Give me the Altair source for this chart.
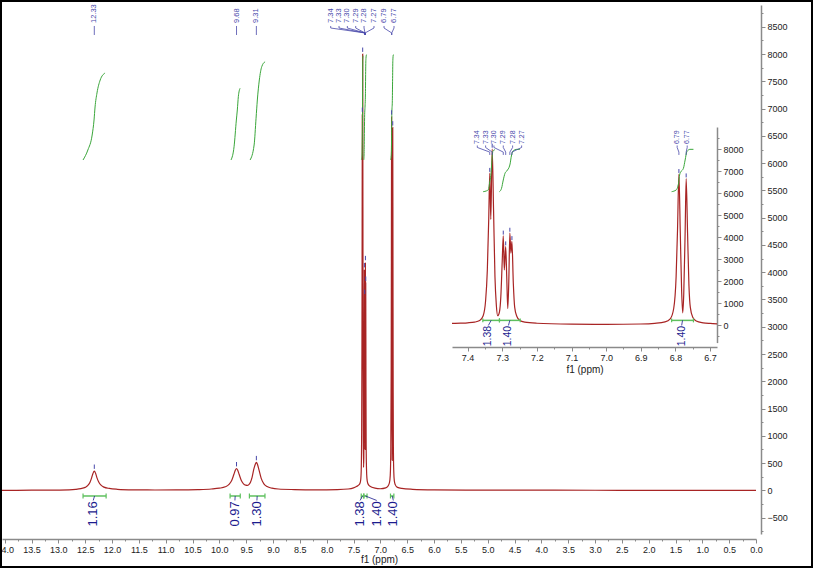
import altair as alt
import pandas as pd

# ---------------- spectrum: (ppm, intensity) ----------------
spectrum_points = [
    (14.05, 0), (13.5, 3), (13.0, 6), (12.8, 10), (12.68, 18), (12.58, 32), (12.50, 55),
    (12.45, 90), (12.41, 150), (12.38, 230), (12.355, 310), (12.33, 354), (12.305, 310),
    (12.28, 230), (12.25, 160), (12.21, 100), (12.15, 60), (12.05, 35), (11.9, 20),
    (11.6, 10), (11.2, 7), (10.8, 8), (10.4, 14), (10.15, 25), (10.0, 40),
    (9.89, 65), (9.82, 110), (9.77, 180), (9.73, 290), (9.70, 375), (9.68, 400),
    (9.66, 375), (9.63, 290), (9.59, 180), (9.55, 120), (9.51, 95), (9.48, 92),
    (9.45, 105), (9.42, 150), (9.39, 240), (9.36, 380), (9.33, 480), (9.31, 512),
    (9.29, 480), (9.26, 370), (9.22, 220), (9.17, 120), (9.11, 70), (9.02, 40),
    (8.90, 25), (8.60, 15), (8.20, 10), (7.80, 15), (7.60, 25), (7.50, 45),
    (7.445, 70), (7.42, 85), (7.40, 100), (7.38, 130), (7.365, 200), (7.355, 420),
    (7.348, 1100), (7.343, 2500), (7.339, 4800), (7.336, 6900), (7.333, 4800),
    (7.329, 8000), (7.325, 5200), (7.321, 2200), (7.317, 900), (7.313, 420),
    (7.308, 600), (7.304, 1300), (7.300, 2900), (7.297, 4050), (7.294, 2500),
    (7.290, 3560), (7.287, 2200), (7.284, 750), (7.281, 2000), (7.278, 4180),
    (7.275, 3270), (7.272, 3800), (7.268, 1900), (7.264, 800), (7.258, 400),
    (7.250, 220), (7.235, 130), (7.20, 80), (7.10, 40), (7.00, 30),
    (6.90, 45), (6.86, 75), (6.83, 140), (6.815, 280), (6.805, 750), (6.798, 2200),
    (6.794, 4300), (6.790, 6850), (6.786, 4200), (6.782, 1500), (6.779, 550),
    (6.776, 1400), (6.772, 4200), (6.769, 6650), (6.765, 4200), (6.761, 1800),
    (6.757, 800), (6.750, 350), (6.740, 180), (6.72, 100), (6.70, 70), (6.68, 55),
    (6.60, 35), (6.40, 20), (6.00, 10), (5.00, 5), (3.00, 2), (1.00, 1), (0.00, 0),
]

# ---------------- picked peaks ----------------
peak_label = ["12.33", "9.68", "9.31", "7.34", "7.33", "7.30", "7.29", "7.28", "7.27", "6.79", "6.77"]
peak_ppm = [12.33, 9.68, 9.31, 7.336, 7.329, 7.297, 7.290, 7.278, 7.272, 6.790, 6.769]
peak_height = [354, 400, 512, 6900, 8000, 4050, 3560, 4180, 3800, 6850, 6650]

# where each peak tag is written (ppm), and where its leader joins the spectrum
main_tag_ppm = [12.33, 9.68, 9.31, 7.925, 7.770, 7.615, 7.459, 7.304, 7.118, 6.931, 6.745]
main_join_ppm = [12.33, 9.68, 9.31, 7.285, 7.285, 7.285, 7.285, 7.285, 7.285, 6.788, 6.788]
inset_tag_ppm = [7.372, 7.348, 7.324, 7.297, 7.270, 7.244, 6.795, 6.766]
inset_join_ppm = [7.336, 7.329, 7.297, 7.290, 7.278, 7.272, 6.790, 6.769]

# ---------------- integral curves: (ppm, running integral drawn on intensity axis) ----------------
int_a = [(12.54, 6058), (12.45, 6241), (12.37, 6516), (12.335, 6791), (12.316, 7030),
         (12.28, 7287), (12.22, 7525), (12.13, 7653)]
int_b = [(9.782, 6058), (9.726, 6300), (9.683, 6791), (9.665, 6975), (9.646, 7219), (9.614, 7373)]
int_c = [(9.427, 6058), (9.352, 6333), (9.316, 6823), (9.292, 7158), (9.255, 7525),
         (9.21, 7769), (9.148, 7860)]
int_d = [(7.355, 6060), (7.345, 6100), (7.340, 6150), (7.336, 6500), (7.333, 6800),
         (7.330, 7400), (7.327, 7900), (7.321, 7970)]
int_e = [(7.308, 6060), (7.302, 6214), (7.297, 6590), (7.292, 6895), (7.287, 7000),
         (7.278, 7272), (7.273, 7727), (7.268, 7920), (7.258, 7985), (7.249, 7985)]
int_f = [(6.811, 6060), (6.798, 6136), (6.791, 6440), (6.788, 6818), (6.784, 6970),
         (6.777, 7120), (6.772, 7500), (6.767, 7880), (6.758, 7985), (6.748, 7985)]

int_names = ["A", "B", "C", "D", "E", "F"]
int_values = ["1.16", "0.97", "1.30", "1.38", "1.40", "1.40"]
int_from = [12.54, 9.80, 9.44, 7.356, 7.308, 6.811]
int_to = [12.11, 9.61, 9.15, 7.308, 7.248, 6.748]
int_tag_main = [12.35, 9.71, 9.30, 7.378, 7.067, 6.758]
int_tag_inset = [None, None, None, 7.340, 7.282, 6.782]

# ---------------- axis ticks ----------------
x_major = [14.0, 13.5, 13.0, 12.5, 12.0, 11.5, 11.0, 10.5, 10.0, 9.5, 9.0, 8.5, 8.0, 7.5, 7.0,
           6.5, 6.0, 5.5, 5.0, 4.5, 4.0, 3.5, 3.0, 2.5, 2.0, 1.5, 1.0, 0.5, 0.0]
x_minor = [round(v - 0.25, 2) for v in x_major if v > 0]
y_major = [-500, 0, 500, 1000, 1500, 2000, 2500, 3000, 3500, 4000, 4500, 5000, 5500, 6000,
           6500, 7000, 7500, 8000, 8500]
y_minor = [v + 250 for v in y_major] + [-750]
xi_major = [7.4, 7.3, 7.2, 7.1, 7.0, 6.9, 6.8, 6.7]
xi_minor = [7.45, 7.35, 7.25, 7.15, 7.05, 6.95, 6.85, 6.75]
yi_major = [0, 1000, 2000, 3000, 4000, 5000, 6000, 7000, 8000]
yi_minor = [-500, 500, 1500, 2500, 3500, 4500, 5500, 6500, 7500, 8500]

# ---------------- tables ----------------
spec_df = pd.DataFrame(spectrum_points, columns=["ppm", "y"])
inset_spec_df = spec_df[(spec_df.ppm <= 7.445) & (spec_df.ppm >= 6.68)]

rows = []
for name, pts in zip(int_names, [int_a, int_b, int_c, int_d, int_e, int_f]):
    for k, (p, v) in enumerate(pts):
        rows.append({"name": name, "k": k, "ppm": p, "y": v})
int_df = pd.DataFrame(rows)
int_inset_df = int_df[int_df.name.isin(["D", "E", "F"])]

brk_df = pd.DataFrame({"name": int_names, "val": int_values, "start": int_from, "end": int_to,
                       "tag_main": int_tag_main, "tag_inset": int_tag_inset})
brk_df["center"] = (brk_df.start + brk_df.end) / 2
brk_inset_df = brk_df[brk_df.name.isin(["D", "E", "F"])]

peak_df = pd.DataFrame({"label": peak_label, "ppm": peak_ppm, "h": peak_height,
                        "tag": main_tag_ppm, "join": main_join_ppm})
peak_inset_df = peak_df.iloc[3:].copy()
peak_inset_df["tag"] = inset_tag_ppm
peak_inset_df["join"] = inset_join_ppm

MAIN_LEAD = [8515, 8478, 8387, 8350]
INSET_LEAD = [8160, 8070, 7860, 7730]


def leaders(df, ys):
    out = []
    for _, r in df.iterrows():
        xs = [r.tag, r.tag, r.join, r.join]
        for k in range(4):
            out.append({"label": r.label, "k": k, "ppm": xs[k], "y": ys[k]})
    return pd.DataFrame(out)


def int_leaders(df, tagcol, y0, y1):
    out = []
    for _, r in df.iterrows():
        out.append({"name": r["name"], "k": 0, "ppm": r.center, "y": y0})
        out.append({"name": r["name"], "k": 1, "ppm": r[tagcol], "y": y1})
    return pd.DataFrame(out)


# ---------------- styles ----------------
FONT = "Liberation Sans"
RED = "#a82424"
GREEN = "#3aa63a"
BRK = "#5ec05e"
BLUE_T = "#4848aa"
BLUE_I = "#1c1c8e"
GREY = "#8a8a8a"
AX = dict(domainColor=GREY, domainWidth=1.5, tickColor=GREY, tickWidth=1, labelFont=FONT,
          labelFontSize=9, labelColor="#222222", grid=False, labelOverlap=False,
          labelFlush=False, titleFont=FONT, titleFontSize=10, titleFontWeight="normal",
          titleColor="#222222")

XM = alt.Scale(domain=[14.05, 0.0], nice=False, zero=False)
YM = alt.Scale(domain=[-800, 8900], nice=False, zero=False)
XI = alt.Scale(domain=[7.445, 6.68], range=[450, 715], nice=False, zero=False)
YI = alt.Scale(domain=[-800, 9000], range=[337.6, 122], nice=False, zero=False)


def build(spec, ints, brks, peaks, XS, YS, xax, yax, xmin, ymin, cfg):
    spec_line = alt.Chart(spec).mark_line(color=RED, strokeWidth=1.2, interpolate="monotone").encode(
        x=alt.X("ppm:Q", scale=XS, axis=xax),
        y=alt.Y("y:Q", scale=YS, axis=yax),
        order=alt.Order("ppm:Q", sort="descending"),
    )
    minor = alt.Chart(spec).mark_point(opacity=0).encode(
        x=alt.X("ppm:Q", scale=XS, axis=xmin),
        y=alt.Y("y:Q", scale=YS, axis=ymin),
    )
    integ = alt.Chart(ints).mark_line(color=GREEN, strokeWidth=1, interpolate="monotone").encode(
        x=alt.X("ppm:Q", scale=XS, axis=None),
        y=alt.Y("y:Q", scale=YS, axis=None),
        detail="name:N",
        order=alt.Order("k:Q"),
    )
    by = cfg["by"]
    bar = alt.Chart(brks).mark_rule(color=BRK, strokeWidth=1.5).transform_calculate(
        by=str(by)).encode(
        x=alt.X("start:Q", scale=XS, axis=None), x2="end:Q",
        y=alt.Y("by:Q", scale=YS, axis=None),
    )
    ends = alt.Chart(brks).mark_rule(color=BRK, strokeWidth=1.2).transform_fold(
        ["start", "end"], as_=["side", "pos"]).transform_calculate(
        b0=str(by - cfg["tick"]), b1=str(by + cfg["tick"])).encode(
        x=alt.X("pos:Q", scale=XS, axis=None),
        y=alt.Y("b0:Q", scale=YS, axis=None), y2="b1:Q",
    )
    lead = alt.Chart(int_leaders(brks, cfg["tagcol"], by, cfg["lead_end"])).mark_line(
        color=BLUE_I, strokeWidth=0.8).encode(
        x=alt.X("ppm:Q", scale=XS, axis=None),
        y=alt.Y("y:Q", scale=YS, axis=None),
        detail="name:N", order=alt.Order("k:Q"),
    )
    ival = alt.Chart(brks).mark_text(angle=270, align="right", baseline="middle", font=FONT,
                                     fontSize=cfg["ifs"], color=BLUE_I).transform_calculate(
        ty=str(cfg["tag_y"])).encode(
        x=alt.X(cfg["tagcol"] + ":Q", scale=XS, axis=None),
        y=alt.Y("ty:Q", scale=YS, axis=None),
        text="val:N",
    )
    marks = alt.Chart(peaks).mark_rule(color=BLUE_T, strokeWidth=1).transform_calculate(
        m0="datum.h + " + str(cfg["m0"]), m1="datum.h + " + str(cfg["m1"])).encode(
        x=alt.X("ppm:Q", scale=XS, axis=None),
        y=alt.Y("m0:Q", scale=YS, axis=None), y2="m1:Q",
    )
    plead = alt.Chart(leaders(peaks, cfg["plead"])).mark_line(color=BLUE_T, strokeWidth=0.8).encode(
        x=alt.X("ppm:Q", scale=XS, axis=None),
        y=alt.Y("y:Q", scale=YS, axis=None),
        detail="label:N", order=alt.Order("k:Q"),
    )
    ptxt = alt.Chart(peaks).mark_text(angle=270, align="left", baseline="middle", font=FONT,
                                      fontSize=cfg["pfs"], color=BLUE_T).transform_calculate(
        ty=str(cfg["ptag_y"])).encode(
        x=alt.X("tag:Q", scale=XS, axis=None),
        y=alt.Y("ty:Q", scale=YS, axis=None),
        text="label:N",
    )
    return [spec_line, minor, integ, bar, ends, lead, ival, marks, plead, ptxt]


# ---------------- main plot ----------------
x_main_axis = alt.Axis(orient="bottom", offset=5, values=x_major, format=".1f", tickSize=4,
                       labelPadding=2, title="f1 (ppm)", titlePadding=0, **AX)
x_main_minor = alt.Axis(orient="bottom", offset=5, values=x_minor, labels=False, domain=False,
                        tickSize=2, tickColor=GREY, title=None, grid=False)
y_main_axis = alt.Axis(orient="right", offset=5, values=y_major, format="d", tickSize=4,
                       labelPadding=2, title=None, **AX)
y_main_minor = alt.Axis(orient="right", offset=5, values=y_minor, labels=False, domain=False,
                        tickSize=2, tickColor=GREY, title=None, grid=False)

main_cfg = dict(by=-103, tick=45, tagcol="tag_main", lead_end=-185, tag_y=-200, ifs=13,
                m0=40, m1=120, plead=MAIN_LEAD, pfs=7.5, ptag_y=8570)
main_layers = build(spec_df, int_df, brk_df, peak_df, XM, YM, x_main_axis, y_main_axis,
                    x_main_minor, y_main_minor, main_cfg)

frame = alt.Chart(pd.DataFrame({"a": [0]})).mark_rect(
    fillOpacity=0, stroke="black", strokeWidth=2).encode(
    x=alt.value(-1), x2=alt.value(810), y=alt.value(-4), y2=alt.value(562))

main = alt.layer(*main_layers, frame).resolve_axis(x="independent", y="independent")

# ---------------- inset ----------------
x_in_axis = alt.Axis(orient="bottom", offset=-187, values=xi_major, format=".1f", tickSize=4,
                     labelPadding=2, title="f1 (ppm)", titlePadding=2, **AX)
x_in_minor = alt.Axis(orient="bottom", offset=-187, values=xi_minor, labels=False, domain=False,
                      tickSize=2, tickColor=GREY, title=None, grid=False)
y_in_axis = alt.Axis(orient="right", offset=-39, values=yi_major, format="d", tickSize=4,
                     labelPadding=2, title=None, **AX)
y_in_minor = alt.Axis(orient="right", offset=-39, values=yi_minor, labels=False, domain=False,
                      tickSize=2, tickColor=GREY, title=None, grid=False)

inset_cfg = dict(by=210, tick=90, tagcol="tag_inset", lead_end=-20, tag_y=-40, ifs=10.5,
                 m0=60, m1=240, plead=INSET_LEAD, pfs=7, ptag_y=8227)
inset_layers = build(inset_spec_df, int_inset_df, brk_inset_df, peak_inset_df, XI, YI,
                     x_in_axis, y_in_axis, x_in_minor, y_in_minor, inset_cfg)
inset = alt.layer(*inset_layers).resolve_axis(x="independent", y="independent")

chart = alt.layer(main, inset).resolve_scale(x="independent", y="independent").properties(
    width=754, height=529,
    padding={"left": 2, "top": 5, "right": 57, "bottom": 34},
    autosize=alt.AutoSizeParams(type="none"),
    background="white",
).configure_view(strokeWidth=0)

chart.save("out.html", embed_options={"renderer": "svg", "actions": False})
